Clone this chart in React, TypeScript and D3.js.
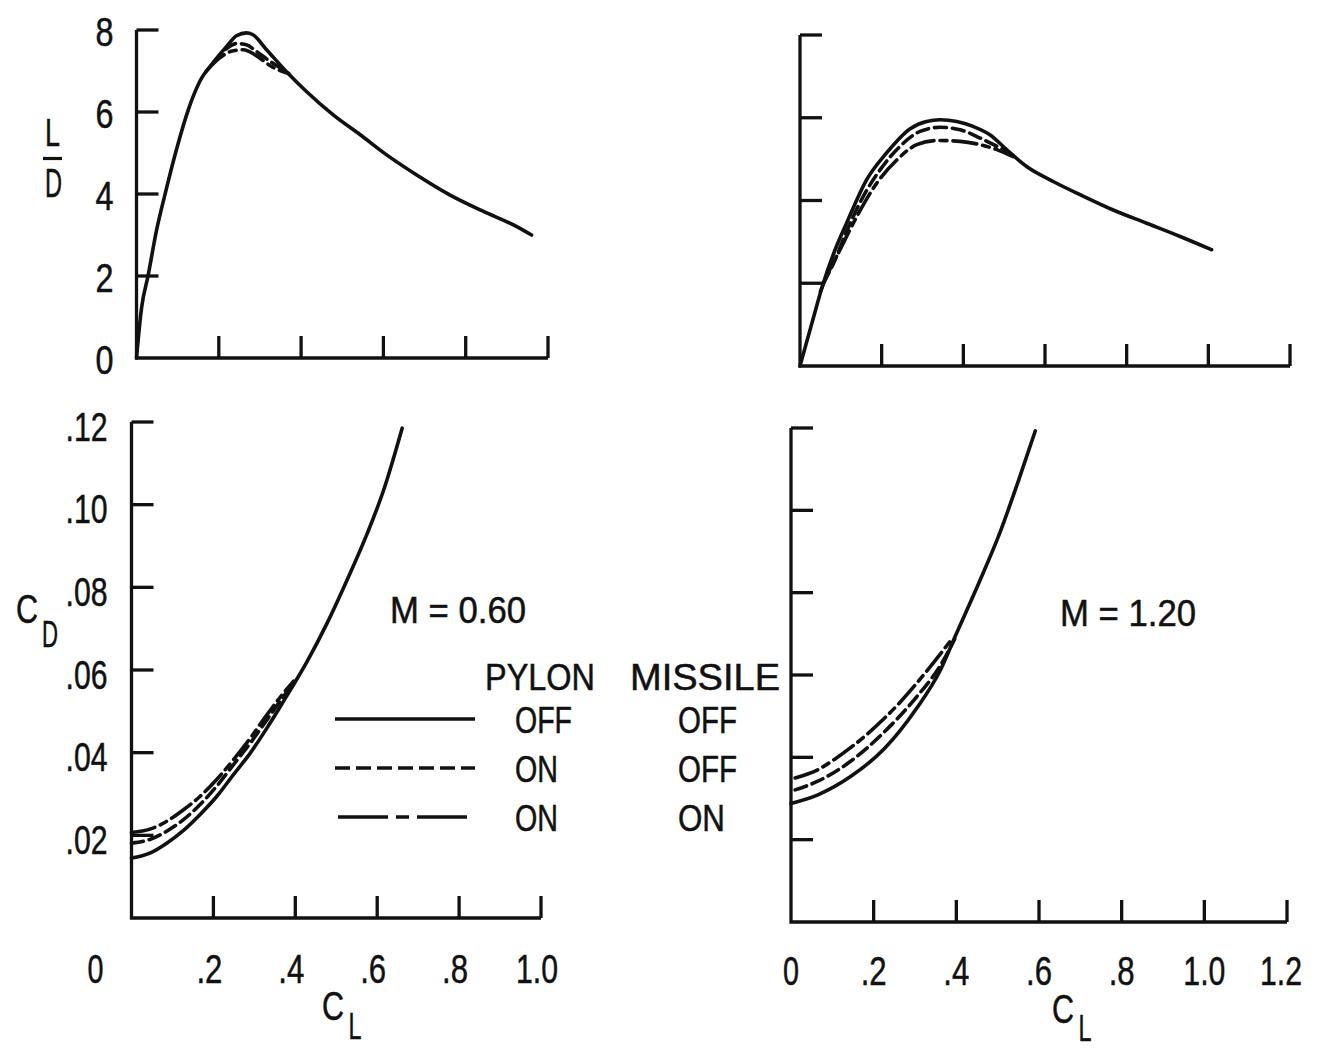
import React from 'react';
import * as d3 from 'd3';

// ---------- DATA ----------
const CL_TICKS_06 = [0.2, 0.4, 0.6, 0.8, 1.0];
const CL_TICKS_12 = [0.2, 0.4, 0.6, 0.8, 1.0, 1.2];
const LD_TICKS = [2, 4, 6, 8];
const CD_TICKS = [0.02, 0.04, 0.06, 0.08, 0.1, 0.12];
const LD_TICK_LABELS = ['0', '2', '4', '6', '8'];
const LD_TICK_VALUES = [0, 2, 4, 6, 8];
const CD_TICK_LABELS = ['.02', '.04', '.06', '.08', '.10', '.12'];
const CL_LABELS_06 = ['0', '.2', '.4', '.6', '.8', '1.0'];
const CL_LABEL_VALUES_06 = [0, 0.2, 0.4, 0.6, 0.8, 1.0];
const CL_LABELS_12 = ['0', '.2', '.4', '.6', '.8', '1.0', '1.2'];
const CL_LABEL_VALUES_12 = [0, 0.2, 0.4, 0.6, 0.8, 1.0, 1.2];

// M = 0.60, L/D vs CL
const LD06_OFF_OFF: [number, number][] = [
  [0, 0], [0.012, 1.2], [0.028, 2.0], [0.049, 3.13], [0.069, 3.98], [0.097, 5.08],
  [0.126, 6.06], [0.154, 6.75], [0.186, 7.2], [0.219, 7.6], [0.243, 7.86], [0.267, 7.93],
  [0.282, 7.89], [0.316, 7.52], [0.364, 6.99], [0.413, 6.5], [0.478, 5.93], [0.543, 5.45],
  [0.607, 4.96], [0.68, 4.47], [0.761, 3.98], [0.842, 3.58], [0.923, 3.21], [0.96, 3.0],
];
const LD06_ON_OFF: [number, number][] = [
  [0.186, 7.2], [0.219, 7.55], [0.243, 7.67], [0.267, 7.64], [0.291, 7.48],
  [0.324, 7.24], [0.364, 6.99],
];
const LD06_ON_ON: [number, number][] = [
  [0.17, 7.0], [0.2, 7.3], [0.23, 7.48], [0.26, 7.52], [0.29, 7.38],
  [0.33, 7.1], [0.37, 6.94],
];

// M = 1.20, L/D vs CL
const LD12_OFF_OFF: [number, number][] = [
  [0, 0], [0.029, 1.03], [0.057, 2.0], [0.086, 2.81], [0.114, 3.45], [0.163, 4.5],
  [0.212, 5.15], [0.269, 5.73], [0.31, 5.91], [0.343, 5.95], [0.384, 5.91], [0.424, 5.79],
  [0.465, 5.59], [0.506, 5.23], [0.555, 4.82], [0.62, 4.46], [0.686, 4.14], [0.767, 3.77],
  [0.849, 3.45], [0.931, 3.13], [1.008, 2.81],
];
const LD12_ON_OFF: [number, number][] = [
  [0.057, 2.0], [0.082, 2.48], [0.114, 3.25], [0.155, 4.1], [0.196, 4.74], [0.245, 5.31],
  [0.294, 5.67], [0.343, 5.77], [0.392, 5.71], [0.441, 5.51], [0.482, 5.31], [0.514, 5.15],
];
const LD12_ON_ON: [number, number][] = [
  [0.05, 1.8], [0.065, 2.16], [0.098, 2.81], [0.139, 3.61], [0.188, 4.42], [0.237, 4.98],
  [0.286, 5.35], [0.335, 5.45], [0.392, 5.43], [0.441, 5.35], [0.482, 5.23], [0.522, 5.06],
];

// M = 0.60, CD vs CL
const CD06_OFF_OFF: [number, number][] = [
  [0, 0.0145], [0.045, 0.0157], [0.086, 0.0181], [0.127, 0.0212], [0.167, 0.025],
  [0.208, 0.0294], [0.249, 0.0347], [0.29, 0.0399], [0.331, 0.046], [0.371, 0.0524],
  [0.396, 0.0565], [0.429, 0.0621], [0.478, 0.0714], [0.527, 0.0819], [0.576, 0.0931],
  [0.616, 0.1036], [0.661, 0.1185],
];
const CD06_ON_OFF: [number, number][] = [
  [0, 0.0181], [0.045, 0.019], [0.086, 0.021], [0.127, 0.0238], [0.167, 0.0274],
  [0.208, 0.0319], [0.249, 0.0371], [0.29, 0.0423], [0.331, 0.048], [0.371, 0.0536],
  [0.396, 0.0569],
];
const CD06_ON_ON: [number, number][] = [
  [0, 0.0207], [0.045, 0.0215], [0.086, 0.0234], [0.127, 0.0262], [0.167, 0.0294],
  [0.208, 0.0335], [0.249, 0.0383], [0.29, 0.0435], [0.331, 0.0492], [0.371, 0.0544],
  [0.396, 0.0573],
];

// M = 1.20, CD vs CL
const CD12_OFF_OFF: [number, number][] = [
  [0, 0.0288], [0.065, 0.0309], [0.145, 0.0354], [0.225, 0.042], [0.304, 0.0519],
  [0.36, 0.0609], [0.4, 0.07], [0.456, 0.0827], [0.504, 0.0942], [0.551, 0.1074],
  [0.591, 0.1193],
];
const CD12_ON_OFF: [number, number][] = [
  [0.01, 0.0321], [0.065, 0.0342], [0.145, 0.0391], [0.225, 0.0461], [0.304, 0.0547],
  [0.36, 0.0621], [0.396, 0.0687],
];
const CD12_ON_ON: [number, number][] = [
  [0.01, 0.035], [0.065, 0.037], [0.105, 0.0395], [0.185, 0.0457], [0.265, 0.0535],
  [0.328, 0.0609], [0.392, 0.0691],
];

const LEGEND_PYLON = ['OFF', 'ON', 'ON'];
const LEGEND_MISSILE = ['OFF', 'OFF', 'ON'];
const MACH_LABELS = ['M = 0.60', 'M = 1.20'];

// ---------- STYLE ----------
const FONT = "'Liberation Sans', Arial, sans-serif";
const INK = '#111';
const DASH = '12 6';
const DASHDOT = '24 6 7 6';
const LEG_DASH = '15 6';
const LEG_DASHDOT = '50 8 13 8';
const STYLES = [undefined, DASH, DASHDOT];

function glyphWidth(s: string) {
  let w = 0;
  for (const c of s) w += c === '.' ? 10 : 16;
  return w;
}

function Txt({ x, y, size = 40, w, anchor = 'middle', children }: any) {
  return (
    <text
      x={x}
      y={y + size * 0.36}
      fontSize={size}
      fontFamily={FONT}
      textAnchor={anchor}
      fill={INK}
      stroke={INK}
      strokeWidth={0.5}
      textLength={w}
      lengthAdjust="spacingAndGlyphs"
    >
      {children}
    </text>
  );
}

type PanelDef = {
  xMax: number; yMax: number;
  x0: number; x1: number; y0: number; y1: number;
  xTicks: number[]; yTicks: number[];
  series: [number, number][][];
};

function Panel({ p }: { p: PanelDef }) {
  const x = d3.scaleLinear().domain([0, p.xMax]).range([p.x0, p.x1]);
  const y = d3.scaleLinear().domain([0, p.yMax]).range([p.y0, p.y1]);
  const line = d3
    .line<[number, number]>()
    .x((d) => x(d[0]))
    .y((d) => y(d[1]))
    .curve(d3.curveMonotoneX);
  return (
    <g>
      <path
        d={`M${x(0)},${y(p.yMax)}V${y(0)}H${x(p.xMax)}`}
        fill="none"
        stroke={INK}
        strokeWidth={3.3}
        strokeLinejoin="miter"
      />
      {p.yTicks.map((t) => (
        <line key={'y' + t} x1={x(0)} x2={x(0) + 22} y1={y(t)} y2={y(t)} stroke={INK} strokeWidth={3.3} />
      ))}
      {p.xTicks.map((t) => (
        <line key={'x' + t} x1={x(t)} x2={x(t)} y1={y(0)} y2={y(0) - 22} stroke={INK} strokeWidth={3.3} />
      ))}
      {p.series.map((s, i) => (
        <path
          key={i}
          d={line(s) || ''}
          fill="none"
          stroke={INK}
          strokeWidth={3.6}
          strokeDasharray={STYLES[i]}
          strokeLinecap="round"
        />
      ))}
    </g>
  );
}

export default function App() {
  const tl: PanelDef = {
    xMax: 1, yMax: 8, x0: 136.5, x1: 548, y0: 358, y1: 30,
    xTicks: CL_TICKS_06, yTicks: LD_TICKS,
    series: [LD06_OFF_OFF, LD06_ON_OFF, LD06_ON_ON],
  };
  const tr: PanelDef = {
    xMax: 1.2, yMax: 8, x0: 800, x1: 1290, y0: 366, y1: 35,
    xTicks: CL_TICKS_12, yTicks: LD_TICKS,
    series: [LD12_OFF_OFF, LD12_ON_OFF, LD12_ON_ON],
  };
  const bl: PanelDef = {
    xMax: 1, yMax: 0.12, x0: 131.5, x1: 541, y0: 918, y1: 422,
    xTicks: CL_TICKS_06, yTicks: CD_TICKS,
    series: [CD06_OFF_OFF, CD06_ON_OFF, CD06_ON_ON],
  };
  const br: PanelDef = {
    xMax: 1.2, yMax: 0.12, x0: 791, x1: 1287, y0: 922, y1: 428,
    xTicks: CL_TICKS_12, yTicks: CD_TICKS,
    series: [CD12_OFF_OFF, CD12_ON_OFF, CD12_ON_ON],
  };

  const tlY = d3.scaleLinear().domain([0, 8]).range([tl.y0, tl.y1]);
  const blY = d3.scaleLinear().domain([0, 0.12]).range([bl.y0, bl.y1]);
  const blX = d3.scaleLinear().domain([0, 1]).range([bl.x0, bl.x1]);
  const brX = d3.scaleLinear().domain([0, 1.2]).range([br.x0, br.x1]);

  const legRows = [720, 769, 818];
  const legStyles = [undefined, LEG_DASH, LEG_DASHDOT];

  return (
    <svg
      width={1317}
      height={1048}
      viewBox="0 0 1317 1048"
      style={{ position: 'absolute', left: 0, top: 0, background: '#fff' }}
    >
      <rect x={0} y={0} width={1317} height={1048} fill="#fff" />
      <Panel p={tl} />
      <Panel p={tr} />
      <Panel p={bl} />
      <Panel p={br} />

      {/* L/D y labels */}
      {LD_TICK_VALUES.map((v, i) => (
        <Txt key={'ld' + v} x={tl.x0 - 32} y={tlY(v) + 1.5} size={41} w={18}>
          {LD_TICK_LABELS[i]}
        </Txt>
      ))}
      {/* CD y labels */}
      {CD_TICKS.map((v, i) => (
        <Txt key={'cd' + v} x={bl.x0 - 24} y={blY(v) + 4} size={41} w={glyphWidth(CD_TICK_LABELS[i])} anchor="end">
          {CD_TICK_LABELS[i]}
        </Txt>
      ))}
      {/* CL x labels, M=0.60 */}
      {CL_LABEL_VALUES_06.map((v, i) => (
        <Txt
          key={'cla' + v}
          x={v === 0 ? blX(v) - 36 : blX(v) - 4}
          y={968}
          size={41}
          w={glyphWidth(CL_LABELS_06[i])}
        >
          {CL_LABELS_06[i]}
        </Txt>
      ))}
      {/* CL x labels, M=1.20 */}
      {CL_LABEL_VALUES_12.map((v, i) => (
        <Txt key={'clb' + v} x={Math.min(brX(v), 1281)} y={970} size={41} w={glyphWidth(CL_LABELS_12[i])}>
          {CL_LABELS_12[i]}
        </Txt>
      ))}

      {/* axis titles */}
      <Txt x={52.5} y={132} size={39} w={15}>L</Txt>
      <line x1={43} x2={62} y1={158.5} y2={158.5} stroke={INK} strokeWidth={3.2} />
      <Txt x={53.5} y={183} size={40} w={17}>D</Txt>

      <Txt x={27} y={609} size={40} w={22}>C</Txt>
      <Txt x={50} y={634} size={36} w={16}>D</Txt>

      <Txt x={333} y={1006} size={40} w={22}>C</Txt>
      <Txt x={355} y={1026} size={36} w={13}>L</Txt>
      <Txt x={1063} y={1009} size={40} w={22}>C</Txt>
      <Txt x={1085} y={1028} size={36} w={13}>L</Txt>

      {/* Mach labels */}
      <Txt x={390} y={610} size={36} w={136} anchor="start">{MACH_LABELS[0]}</Txt>
      <Txt x={1060} y={613} size={36} w={136} anchor="start">{MACH_LABELS[1]}</Txt>

      {/* legend */}
      <Txt x={485} y={677} size={36} w={110} anchor="start">PYLON</Txt>
      <Txt x={630} y={677} size={36} w={150} anchor="start">MISSILE</Txt>
      {legRows.map((ry, i) => (
        <g key={'leg' + i}>
          <line
            x1={i === 2 ? 338 : 335}
            x2={i === 2 ? 472 : 475}
            y1={ry - 1}
            y2={ry - 1}
            stroke={INK}
            strokeWidth={3.6}
            strokeDasharray={legStyles[i]}
          />
          <Txt x={515} y={ry} size={36} w={LEGEND_PYLON[i] === 'OFF' ? 57 : 43} anchor="start">
            {LEGEND_PYLON[i]}
          </Txt>
          <Txt x={678} y={ry} size={36} w={LEGEND_MISSILE[i] === 'OFF' ? 59 : 47} anchor="start">
            {LEGEND_MISSILE[i]}
          </Txt>
        </g>
      ))}
    </svg>
  );
}
